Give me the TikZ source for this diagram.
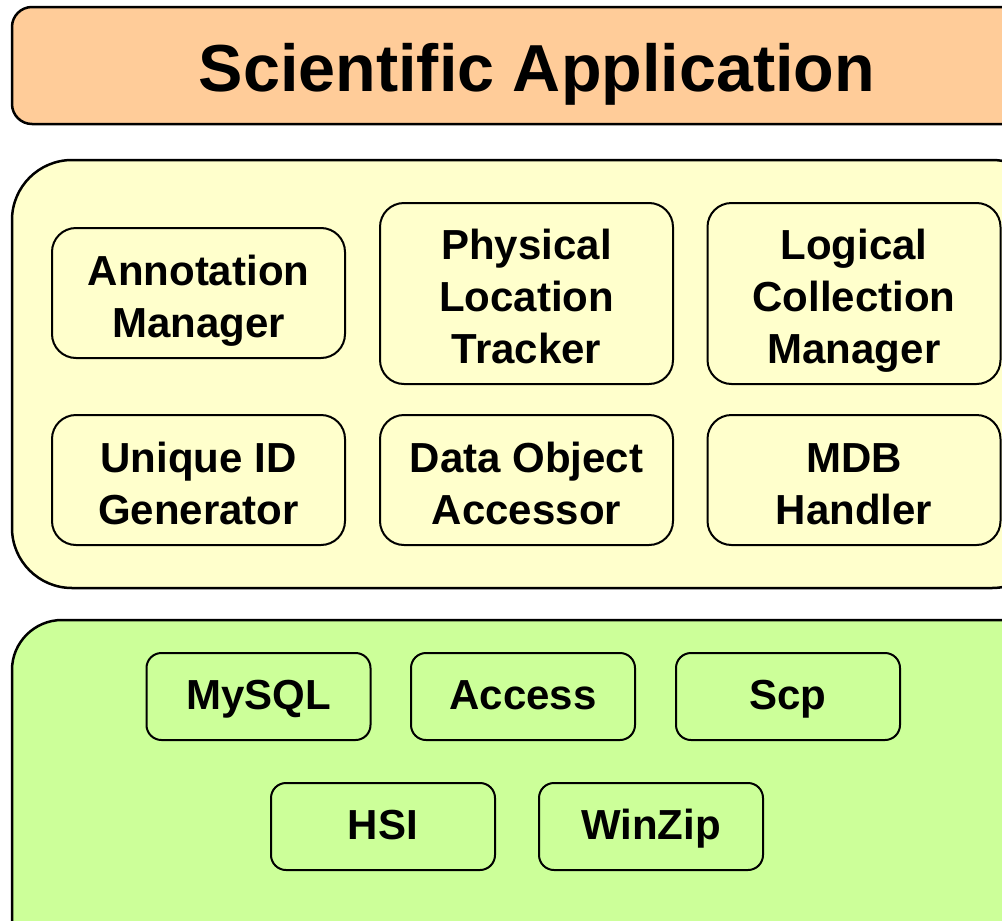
\documentclass[tikz,border=0pt]{standalone}
\usepackage{fontspec}
\setmainfont{Liberation Sans}
\definecolor{orangefill}{HTML}{FFCC99}
\definecolor{yellowfill}{HTML}{FFFFCC}
\definecolor{greenfill}{HTML}{CCFF99}
\newcommand\firstln[1]{\rule{0pt}{40pt}#1}
\newcommand\lastln[1]{\smash{#1}\rule[-4pt]{0pt}{4pt}}
\begin{document}
\begin{tikzpicture}[x=1pt,y=-1pt,
  panel/.style={draw=black, line width=2.5pt, inner sep=0pt},
  inbox/.style={draw=black, line width=2pt, rounded corners=24pt, fill=yellowfill, align=center, inner sep=0pt,
    font=\fontsize{42}{52}\selectfont\bfseries, minimum width=293pt},
  gbox/.style={draw=black, line width=2pt, rounded corners=15pt, fill=greenfill, align=center, inner sep=0pt,
    font=\fontsize{42}{52}\selectfont\bfseries, text height=30pt, text depth=4pt, minimum width=224pt, minimum height=87pt}]
\useasboundingbox (0,0) rectangle (1002,921);
\clip (0,0) rectangle (1002,921);
% panels
\node[panel, fill=orangefill, rounded corners=20pt, minimum width=1040pt, minimum height=117pt] (top) at (532,65.5) {};
\node[font=\fontsize{66.5}{80}\selectfont\bfseries, text height=48pt, text depth=0pt, inner sep=0pt] (title) at (537,67.5) {Scientific Application};
\node[panel, fill=yellowfill, rounded corners=60pt, minimum width=1040pt, minimum height=428pt] (mid) at (532,374) {};
\node[panel, fill=greenfill, rounded corners=50pt, minimum width=1040pt, minimum height=360pt] (bot) at (532,800) {};
% middle boxes
\node[inbox, minimum height=130pt] (ann) at (198.5,293) {\firstln{Annotation}\\\lastln{Manager}};
\node[inbox, minimum height=181pt] (phys) at (526.5,293.5) {\firstln{Physical}\\Location\\\lastln{Tracker}};
\node[inbox, minimum height=181pt] (logi) at (854,293.5) {\firstln{Logical}\\Collection\\\lastln{Manager}};
\node[inbox, minimum height=130pt] (uid) at (198.5,480) {\firstln{Unique ID}\\\lastln{Generator}};
\node[inbox, minimum height=130pt] (doa) at (526.5,480) {\firstln{Data Object}\\\lastln{Accessor}};
\node[inbox, minimum height=130pt] (mdb) at (854,480) {\firstln{MDB}\\\lastln{Handler}};
% bottom boxes
\node[gbox] (mysql) at (258.5,696.5) {MySQL};
\node[gbox] (access) at (523,696.5) {Access};
\node[gbox] (scp) at (788,696.5) {Scp};
\node[gbox] (hsi) at (383,826.5) {HSI};
\node[gbox] (winzip) at (651,826.5) {WinZip};
\end{tikzpicture}
\end{document}
